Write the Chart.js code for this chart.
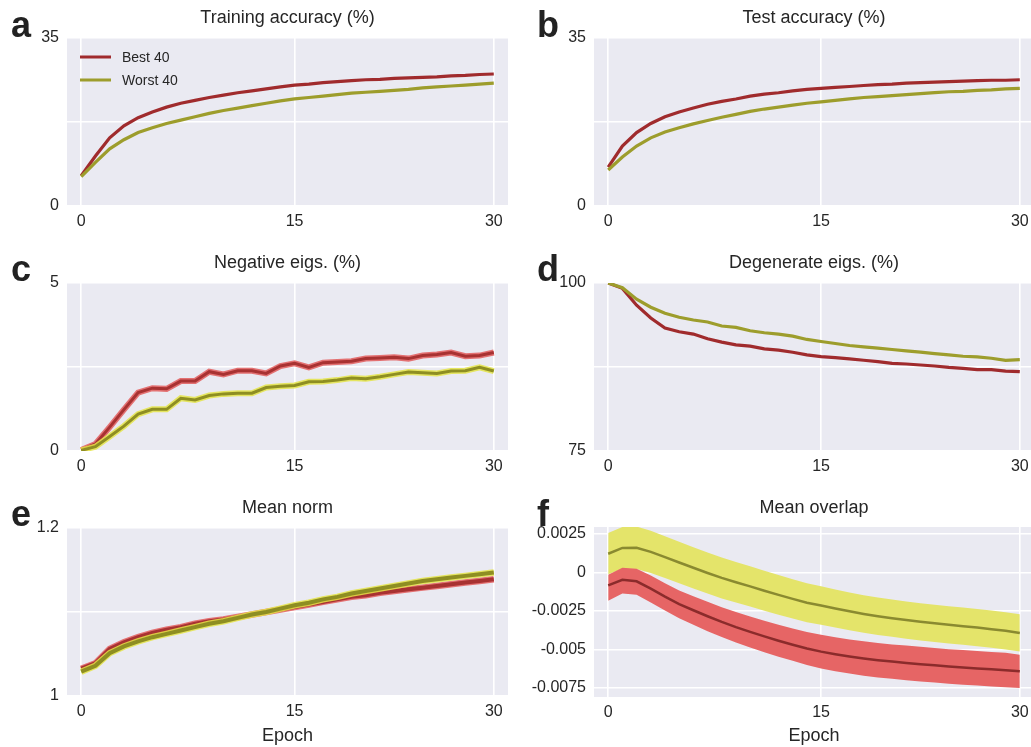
<!DOCTYPE html>
<html>
<head>
<meta charset="utf-8">
<script src="https://cdn.jsdelivr.net/npm/chart.js@4.4.1/dist/chart.umd.min.js"></script>
<style>
    html, body { margin: 0; padding: 0; background: #ffffff; overflow: hidden; width: 1031px; height: 747px; }
    canvas { position: absolute; }
</style>
</head>
<body>
<canvas id="chartA" width="515" height="243" style="left:0;top:0;width:515px;height:243px"></canvas>
<canvas id="chartB" width="521" height="243" style="left:515px;top:0;width:521px;height:243px"></canvas>
<canvas id="chartC" width="515" height="245" style="left:0;top:243px;width:515px;height:245px"></canvas>
<canvas id="chartD" width="521" height="245" style="left:515px;top:243px;width:521px;height:245px"></canvas>
<canvas id="chartE" width="515" height="259" style="left:0;top:488px;width:515px;height:259px"></canvas>
<canvas id="chartF" width="521" height="259" style="left:515px;top:488px;width:521px;height:259px"></canvas>
<script>
// Epoch index and tick labels (shared by all panels)
const epochs = [0, 1, 2, 3, 4, 5, 6, 7, 8, 9, 10, 11, 12, 13, 14, 15, 16, 17, 18, 19, 20, 21, 22, 23, 24, 25, 26, 27, 28, 29];
const xTickPos = [0, 15, 29];
const xTickLabels = ['0', '15', '30'];
const seriesNames = ['Best 40', 'Worst 40'];

// a - Training accuracy (%)
const trainBest = [6.3, 10.4, 14.2, 16.7, 18.4, 19.6, 20.6, 21.4, 22.0, 22.6, 23.1, 23.6, 24.0, 24.4, 24.8, 25.2, 25.4, 25.7, 25.9, 26.1, 26.3, 26.4, 26.6, 26.7, 26.8, 26.9, 27.1, 27.2, 27.4, 27.5];
const trainWorst = [6.1, 9.1, 11.9, 13.8, 15.3, 16.3, 17.2, 17.9, 18.6, 19.3, 19.9, 20.4, 20.9, 21.4, 21.9, 22.3, 22.6, 22.9, 23.2, 23.5, 23.7, 23.9, 24.1, 24.3, 24.6, 24.8, 25.0, 25.2, 25.4, 25.6];
const accTicks = [0, 17.5, 35];
const accTickLabels = ['0', '', '35'];

// b - Test accuracy (%)
const testBest = [8.1, 12.5, 15.3, 17.2, 18.6, 19.6, 20.4, 21.2, 21.8, 22.3, 22.9, 23.3, 23.6, 24.0, 24.3, 24.5, 24.7, 24.9, 25.1, 25.3, 25.4, 25.6, 25.7, 25.8, 25.9, 26.0, 26.1, 26.2, 26.2, 26.3];
const testWorst = [7.5, 10.2, 12.5, 14.2, 15.4, 16.3, 17.1, 17.8, 18.5, 19.1, 19.7, 20.2, 20.6, 21.0, 21.4, 21.7, 22.0, 22.3, 22.6, 22.8, 23.0, 23.2, 23.4, 23.6, 23.8, 23.9, 24.1, 24.2, 24.4, 24.5];

// c - Negative eigs. (%)
const negBest = [0.03, 0.21, 0.71, 1.23, 1.74, 1.87, 1.85, 2.08, 2.08, 2.36, 2.28, 2.39, 2.39, 2.31, 2.53, 2.61, 2.49, 2.63, 2.65, 2.67, 2.75, 2.77, 2.79, 2.75, 2.84, 2.87, 2.93, 2.82, 2.84, 2.93];
const negWorst = [0.02, 0.13, 0.43, 0.74, 1.10, 1.24, 1.24, 1.57, 1.52, 1.65, 1.70, 1.72, 1.72, 1.89, 1.93, 1.95, 2.06, 2.07, 2.11, 2.17, 2.15, 2.21, 2.28, 2.35, 2.33, 2.31, 2.38, 2.39, 2.49, 2.38];
const negTicks = [0, 2.5, 5];
const negTickLabels = ['0', '', '5'];

// d - Degenerate eigs. (%)
const degBest = [100, 99.2, 96.7, 94.8, 93.3, 92.75, 92.4, 91.7, 91.2, 90.8, 90.6, 90.2, 90.0, 89.7, 89.3, 89.05, 88.9, 88.7, 88.5, 88.3, 88.05, 87.95, 87.8, 87.65, 87.45, 87.3, 87.1, 87.1, 86.9, 86.8];
const degWorst = [100, 99.3, 97.6, 96.4, 95.5, 94.9, 94.5, 94.2, 93.6, 93.4, 92.9, 92.6, 92.4, 92.1, 91.6, 91.3, 91.0, 90.7, 90.5, 90.3, 90.1, 89.9, 89.7, 89.5, 89.3, 89.1, 89.0, 88.8, 88.5, 88.6];
const degTicks = [75, 87.5, 100];
const degTickLabels = ['75', '', '100'];

// e - Mean norm
const normBest = [1.0325, 1.039, 1.056, 1.064, 1.070, 1.075, 1.079, 1.082, 1.086, 1.089, 1.091, 1.094, 1.097, 1.100, 1.103, 1.106, 1.109, 1.112, 1.115, 1.118, 1.120, 1.123, 1.125, 1.127, 1.129, 1.131, 1.133, 1.135, 1.137, 1.139];
const normWorst = [1.029, 1.036, 1.051, 1.059, 1.065, 1.070, 1.074, 1.078, 1.082, 1.086, 1.089, 1.093, 1.097, 1.100, 1.104, 1.108, 1.111, 1.115, 1.118, 1.122, 1.125, 1.128, 1.131, 1.134, 1.137, 1.139, 1.141, 1.143, 1.145, 1.147];
const normTicks = [1, 1.1, 1.2];
const normTickLabels = ['1', '', '1.2'];

// f - Mean overlap (mean with shaded band)
const overlapBest = [-0.00084, -0.00048, -0.00058, -0.00106, -0.00158, -0.00206, -0.00246, -0.00285, -0.00322, -0.00356, -0.00387, -0.00416, -0.00444, -0.00470, -0.00495, -0.00515, -0.00532, -0.00547, -0.00560, -0.00571, -0.00580, -0.00589, -0.00597, -0.00604, -0.00612, -0.00618, -0.00624, -0.00630, -0.00636, -0.00643];
const overlapBestHi = [-0.00015, 0.00030, 0.00024, -0.00021, -0.00071, -0.00117, -0.00155, -0.00191, -0.00226, -0.00258, -0.00287, -0.00314, -0.00340, -0.00364, -0.00387, -0.00406, -0.00422, -0.00436, -0.00448, -0.00459, -0.00468, -0.00476, -0.00484, -0.00491, -0.00499, -0.00505, -0.00511, -0.00517, -0.00523, -0.00535];
const overlapBestLo = [-0.00184, -0.00138, -0.00146, -0.00195, -0.00248, -0.00298, -0.00340, -0.00382, -0.00420, -0.00456, -0.00489, -0.00519, -0.00548, -0.00575, -0.00602, -0.00624, -0.00642, -0.00658, -0.00672, -0.00683, -0.00692, -0.00701, -0.00709, -0.00716, -0.00724, -0.00730, -0.00736, -0.00742, -0.00747, -0.00751];
const overlapWorst = [0.00121, 0.00159, 0.00160, 0.00133, 0.00099, 0.00064, 0.00030, -0.00004, -0.00036, -0.00064, -0.00091, -0.00119, -0.00146, -0.00172, -0.00197, -0.00215, -0.00235, -0.00253, -0.00270, -0.00285, -0.00298, -0.00310, -0.00321, -0.00331, -0.00341, -0.00350, -0.00359, -0.00369, -0.00380, -0.00394];
const overlapWorstHi = [0.00256, 0.00295, 0.00298, 0.00270, 0.00235, 0.00199, 0.00164, 0.00130, 0.00097, 0.00068, 0.00040, 0.00011, -0.00017, -0.00044, -0.00070, -0.00090, -0.00111, -0.00130, -0.00148, -0.00163, -0.00177, -0.00189, -0.00200, -0.00210, -0.00220, -0.00229, -0.00238, -0.00248, -0.00259, -0.00272];
const overlapWorstLo = [-0.00012, 0.00023, 0.00022, -0.00004, -0.00037, -0.00071, -0.00104, -0.00138, -0.00169, -0.00196, -0.00222, -0.00249, -0.00275, -0.00300, -0.00324, -0.00340, -0.00359, -0.00376, -0.00392, -0.00407, -0.00419, -0.00431, -0.00442, -0.00452, -0.00462, -0.00471, -0.00480, -0.00490, -0.00501, -0.00515];
const overlapTicks = [-0.0075, -0.005, -0.0025, 0, 0.0025];
const overlapTickLabels = ['-0.0075', '-0.005', '-0.0025', '0', '0.0025'];

// Colours (seaborn-ish darkgrid look)
const COLORS = {
    best: '#a02b2d',
    worst: '#9d9d2c',
    bestHalo: 'rgba(226, 92, 92, 0.85)',
    worstHalo: 'rgba(228, 228, 70, 0.85)',
    bestBand: '#e66565',
    worstBand: '#e4e46a',
    bestMean: '#8b2b2b',
    worstMean: '#8a8a30',
    panel: '#eaeaf2',
    text: '#262626'
};
const FONT = "'Liberation Sans', Arial, sans-serif";

const pts = arr => epochs.map((e, i) => ({ x: e, y: arr[i] }));

// fills the axes background
const panelBg = {
    id: 'panelBg',
    beforeDraw(chart) {
        const a = chart.chartArea;
        const ctx = chart.ctx;
        ctx.save();
        ctx.fillStyle = COLORS.panel;
        ctx.fillRect(a.left, a.top, a.right - a.left, a.bottom - a.top);
        ctx.restore();
    }
};

// panel title, letter, optional x label and legend
function decor(cfg) {
    return {
        id: 'decor',
        afterDraw(chart) {
            const a = chart.chartArea;
            const ctx = chart.ctx;
            ctx.save();
            ctx.fillStyle = COLORS.text;
            ctx.textAlign = 'center';
            ctx.textBaseline = 'middle';
            ctx.font = '18px ' + FONT;
            ctx.fillText(cfg.title, (a.left + a.right) / 2, cfg.titleY);
            if (cfg.xlabel) {
                ctx.fillText(cfg.xlabel, (a.left + a.right) / 2, cfg.xlabelY);
            }
            ctx.textAlign = 'left';
            ctx.textBaseline = 'alphabetic';
            ctx.font = 'bold 36px ' + FONT;
            ctx.fillStyle = '#222222';
            ctx.fillText(cfg.letter, cfg.letterX, cfg.letterY);
            if (cfg.legend) {
                ctx.font = '14px ' + FONT;
                ctx.textBaseline = 'middle';
                const colors = [COLORS.best, COLORS.worst];
                seriesNames.forEach((name, i) => {
                    const y = 57 + i * 23;
                    ctx.strokeStyle = colors[i];
                    ctx.lineWidth = 3;
                    ctx.beginPath();
                    ctx.moveTo(80, y);
                    ctx.lineTo(111, y);
                    ctx.stroke();
                    ctx.fillStyle = COLORS.text;
                    ctx.fillText(name, 122, y + 1);
                });
            }
            ctx.restore();
        }
    };
}

function makeScales(yMin, yMax, yTicks, yLabels, yWidth, xHeight) {
    const tickFont = { family: FONT, size: 16 };
    return {
        x: {
            type: 'linear',
            min: -1,
            max: 30,
            afterBuildTicks: s => { s.ticks = xTickPos.map(v => ({ value: v })); },
            afterFit: s => { s.height = xHeight; },
            ticks: {
                autoSkip: false,
                maxRotation: 0,
                padding: 6,
                color: COLORS.text,
                font: tickFont,
                callback: (v, i) => xTickLabels[i]
            },
            grid: { color: '#ffffff', lineWidth: 1.6, drawTicks: false },
            border: { display: false }
        },
        y: {
            type: 'linear',
            min: yMin,
            max: yMax,
            afterBuildTicks: s => { s.ticks = yTicks.map(v => ({ value: v })); },
            afterFit: s => { s.width = yWidth; },
            ticks: {
                autoSkip: false,
                padding: 8,
                color: COLORS.text,
                font: tickFont,
                callback: (v, i) => yLabels[i]
            },
            grid: { color: '#ffffff', lineWidth: 1.6, drawTicks: false },
            border: { display: false }
        }
    };
}

function line(label, data, color, width, order) {
    return {
        label: label,
        data: pts(data),
        borderColor: color,
        borderWidth: width,
        pointRadius: 0,
        tension: 0,
        fill: false,
        order: order
    };
}

function makeChart(id, datasets, scales, pad, deco) {
    return new Chart(document.getElementById(id), {
        type: 'line',
        data: { datasets: datasets },
        options: {
            responsive: false,
            animation: false,
            layout: { padding: pad },
            plugins: { legend: { display: false }, tooltip: { enabled: false } },
            scales: scales
        },
        plugins: [panelBg, decor(deco)]
    });
}

// a
makeChart('chartA', [
    line(seriesNames[0], trainBest, COLORS.best, 3.2, 1),
    line(seriesNames[1], trainWorst, COLORS.worst, 3.2, 0)
], makeScales(0, 35, accTicks, accTickLabels, 67, 37),
    { top: 38, left: 0, right: 7, bottom: 0 },
    { title: 'Training accuracy (%)', titleY: 18, letter: 'a', letterX: 11, letterY: 37, legend: true });

// b
makeChart('chartB', [
    line(seriesNames[0], testBest, COLORS.best, 3.2, 1),
    line(seriesNames[1], testWorst, COLORS.worst, 3.2, 0)
], makeScales(0, 35, accTicks, accTickLabels, 79, 37),
    { top: 38, left: 0, right: 2, bottom: 0 },
    { title: 'Test accuracy (%)', titleY: 18, letter: 'b', letterX: 22, letterY: 37 });

// c
makeChart('chartC', [
    line(seriesNames[1], negWorst, '#8e8e22', 3, 0),
    line(seriesNames[1], negWorst, COLORS.worstHalo, 6, 1),
    line(seriesNames[0], negBest, '#a83232', 3, 2),
    line(seriesNames[0], negBest, COLORS.bestHalo, 6, 3)
], makeScales(0, 5, negTicks, negTickLabels, 67, 37),
    { top: 40, left: 0, right: 7, bottom: 0 },
    { title: 'Negative eigs. (%)', titleY: 20, letter: 'c', letterX: 11, letterY: 38 });

// d
makeChart('chartD', [
    line(seriesNames[0], degBest, COLORS.best, 3.2, 1),
    line(seriesNames[1], degWorst, COLORS.worst, 3.2, 0)
], makeScales(75, 100, degTicks, degTickLabels, 79, 37),
    { top: 40, left: 0, right: 2, bottom: 0 },
    { title: 'Degenerate eigs. (%)', titleY: 20, letter: 'd', letterX: 22, letterY: 38 });

// e
makeChart('chartE', [
    line(seriesNames[1], normWorst, '#8e8e22', 4, 0),
    line(seriesNames[1], normWorst, COLORS.worstHalo, 6.5, 1),
    line(seriesNames[0], normBest, '#a83232', 4, 2),
    line(seriesNames[0], normBest, COLORS.bestHalo, 6.5, 3)
], makeScales(1, 1.2, normTicks, normTickLabels, 67, 51),
    { top: 40, left: 0, right: 7, bottom: 0 },
    { title: 'Mean norm', titleY: 20, letter: 'e', letterX: 11, letterY: 38, xlabel: 'Epoch', xlabelY: 248 });

// f
const bandF = [
    line(seriesNames[0], overlapBest, COLORS.bestMean, 2.5, 0),
    line(seriesNames[1], overlapWorst, COLORS.worstMean, 2.5, 1),
    Object.assign(line(seriesNames[0], overlapBestHi, 'rgba(0,0,0,0)', 0, 2), { fill: '+1', backgroundColor: COLORS.bestBand }),
    line(seriesNames[0], overlapBestLo, 'rgba(0,0,0,0)', 0, 3),
    Object.assign(line(seriesNames[1], overlapWorstHi, 'rgba(0,0,0,0)', 0, 4), { fill: '+1', backgroundColor: COLORS.worstBand }),
    line(seriesNames[1], overlapWorstLo, 'rgba(0,0,0,0)', 0, 5)
];
makeChart('chartF', bandF,
    makeScales(-0.0081, 0.00295, overlapTicks, overlapTickLabels, 79, 50),
    { top: 39, left: 0, right: 2, bottom: 0 },
    { title: 'Mean overlap', titleY: 20, letter: 'f', letterX: 22, letterY: 38, xlabel: 'Epoch', xlabelY: 248 });
</script>
</body>
</html>
